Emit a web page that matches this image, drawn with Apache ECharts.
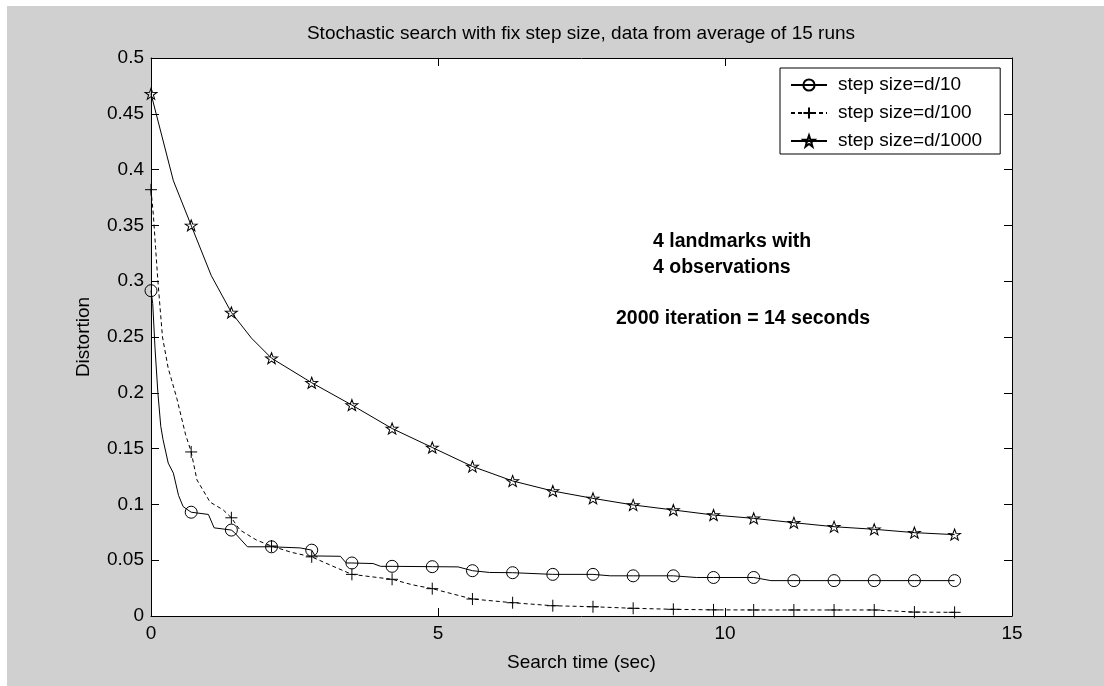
<!DOCTYPE html>
<html><head><meta charset="utf-8">
<script src="https://cdn.jsdelivr.net/npm/echarts@6/dist/echarts.min.js"></script>
<style>html,body{margin:0;padding:0;background:#fff;}#chart{position:absolute;left:7px;top:6px;width:1097px;height:680px;}</style>
</head><body><div id="chart"></div>
<script>
const titleText = 'Stochastic search with fix step size, data from average of 15 runs';
const xAxisName = 'Search time (sec)';
const yAxisName = 'Distortion';
const seriesNames = ['step size=d/10', 'step size=d/100', 'step size=d/1000'];
const noteLines = ['4 landmarks with', '4 observations', '2000 iteration = 14 seconds'];
const xRange = [0, 15, 5];
const yRange = [0, 0.5, 0.05];

const markerTimes = [0, 0.7, 1.4, 2.1, 2.8, 3.5, 4.2, 4.9, 5.6, 6.3, 7.0, 7.7, 8.4, 9.1, 9.8, 10.5, 11.2, 11.9, 12.6, 13.3, 14.0];

const d10Time = [0, 0.03, 0.07, 0.12, 0.17, 0.21, 0.3, 0.39, 0.48, 0.56, 0.7, 1.0, 1.1, 1.4, 1.45, 1.68, 2.1, 2.6, 2.8, 2.86, 3.3, 3.4, 3.5, 3.87, 4.0, 4.2, 4.9, 5.35, 5.6, 5.9, 6.3, 7.0, 7.7, 8.0, 8.4, 9.1, 9.5, 9.8, 10.5, 10.8, 11.2, 11.9, 12.6, 13.3, 14.0];
const d10Value = [0.2915, 0.28, 0.24, 0.20, 0.17, 0.158, 0.137, 0.128, 0.108, 0.098, 0.093, 0.091, 0.079, 0.077, 0.075, 0.062, 0.062, 0.061, 0.059, 0.0538, 0.0535, 0.0475, 0.0475, 0.047, 0.0445, 0.0445, 0.0442, 0.044, 0.0406, 0.039, 0.0388, 0.0373, 0.0373, 0.036, 0.036, 0.036, 0.0345, 0.0345, 0.0345, 0.0317, 0.0317, 0.0317, 0.0317, 0.0317, 0.0317];

const d100Time = [0, 0.04, 0.08, 0.12, 0.2, 0.3, 0.45, 0.6, 0.7, 0.8, 1.03, 1.26, 1.4, 1.55, 1.84, 2.1, 2.45, 2.8, 3.15, 3.5, 4.2, 4.55, 4.9, 5.6, 6.3, 7.0, 7.7, 8.4, 9.1, 9.8, 10.5, 11.2, 11.9, 12.6, 13.3, 14.0];
const d100Value = [0.382, 0.36, 0.33, 0.30, 0.25, 0.222, 0.195, 0.163, 0.147, 0.122, 0.102, 0.095, 0.088, 0.077, 0.068, 0.0627, 0.057, 0.053, 0.045, 0.0373, 0.0329, 0.028, 0.0245, 0.0152, 0.0119, 0.0092, 0.0083, 0.0069, 0.006, 0.0055, 0.0054, 0.0054, 0.0054, 0.0054, 0.0035, 0.0033];

const d1000Time = [0, 0.39, 0.7, 1.05, 1.4, 1.75, 2.1, 2.8, 3.5, 4.2, 4.9, 5.6, 6.3, 7.0, 7.7, 8.4, 9.1, 9.8, 10.5, 11.2, 11.9, 12.6, 13.3, 14.0];
const d1000Value = [0.468, 0.39, 0.350, 0.305, 0.272, 0.249, 0.231, 0.209, 0.189, 0.168, 0.151, 0.134, 0.121, 0.112, 0.1054, 0.0995, 0.095, 0.0905, 0.0875, 0.0836, 0.080, 0.0777, 0.0747, 0.0729];

const FONT = '"Liberation Sans", Arial, sans-serif';
const STAR = 'path://M10,0 L12.35,6.76 L19.51,6.91 L13.80,11.24 L15.88,18.09 L10,14 L4.12,18.09 L6.20,11.24 L0.49,6.91 L7.65,6.76 Z';
const PLUS = 'path://M5,0 L5,10 M0,5 L10,5';

function build(times, values) {
  return times.map((t, i) => {
    const isMark = markerTimes.some(m => Math.abs(m - t) < 1e-6);
    return isMark ? { value: [t, values[i]] } : { value: [t, values[i]], symbol: 'none' };
  });
}

function lineSeries(name, times, values, symbol, symbolSize, dashed) {
  return {
    name, type: 'line', xAxisIndex: 0, yAxisIndex: 0,
    data: build(times, values),
    symbol, symbolSize, showAllSymbol: true,
    lineStyle: { color: '#000', width: 1, type: dashed ? [4, 3] : 'solid' },
    itemStyle: { color: 'rgba(0,0,0,0)', borderColor: '#000', borderWidth: 1 },
    emphasis: { disabled: true },
    silent: true, animation: false
  };
}

function axisCommon(extra) {
  return Object.assign({
    type: 'value',
    axisLine: { show: true, onZero: false, lineStyle: { color: '#000', width: 1 } },
    axisTick: { show: true, inside: true, length: 8, lineStyle: { color: '#000', width: 1 } },
    splitLine: { show: false },
    axisLabel: { show: false }
  }, extra);
}

const chart = echarts.init(document.getElementById('chart'), null, { renderer: 'canvas' });
const labelStyle = { show: true, color: '#000', fontSize: 19, fontFamily: FONT };
chart.setOption({
  backgroundColor: '#d0d0d0',
  animation: false,
  title: {
    text: titleText, left: 574, top: 18, padding: 0, textAlign: 'center',
    textStyle: { fontSize: 19, fontWeight: 'normal', fontFamily: FONT, color: '#000' }
  },
  grid: { left: 144, top: 52, right: 92, bottom: 70, show: true, backgroundColor: '#fff', borderWidth: 0, containLabel: false },
  legend: {
    orient: 'vertical', left: 773, top: 62, padding: [7, 18, 3, 10],
    itemWidth: 36, itemHeight: 14, itemGap: 8,
    backgroundColor: '#fff', borderColor: '#000', borderWidth: 1, borderRadius: 0,
    selectedMode: false,
    textStyle: { fontFamily: FONT, fontSize: 19, color: '#000', lineHeight: 20, padding: [0, 0, 0, 6] },
    data: seriesNames
  },
  xAxis: [
    axisCommon({ position: 'bottom', min: xRange[0], max: xRange[1], interval: xRange[2],
      axisLabel: Object.assign({ margin: 8 }, labelStyle),
      name: xAxisName, nameLocation: 'middle', nameGap: 37,
      nameTextStyle: { color: '#000', fontSize: 19, fontFamily: FONT } }),
    axisCommon({ position: 'top', min: xRange[0], max: xRange[1], interval: xRange[2] })
  ],
  yAxis: [
    axisCommon({ position: 'left', min: yRange[0], max: yRange[1], interval: yRange[2],
      axisLabel: Object.assign({ margin: 7 }, labelStyle),
      name: yAxisName, nameLocation: 'middle', nameGap: 58,
      nameTextStyle: { color: '#000', fontSize: 19, fontFamily: FONT } }),
    axisCommon({ position: 'right', min: yRange[0], max: yRange[1], interval: yRange[2] })
  ],
  graphic: [
    { type: 'text', left: 646, top: 226, style: { text: noteLines[0], font: 'bold 19.5px ' + FONT, fill: '#000' } },
    { type: 'text', left: 646, top: 252, style: { text: noteLines[1], font: 'bold 19.5px ' + FONT, fill: '#000' } },
    { type: 'text', left: 609, top: 303, style: { text: noteLines[2], font: 'bold 19.5px ' + FONT, fill: '#000' } }
  ],
  series: [
    lineSeries(seriesNames[0], d10Time, d10Value, 'circle', 12, false),
    lineSeries(seriesNames[1], d100Time, d100Value, PLUS, 12, true),
    lineSeries(seriesNames[2], d1000Time, d1000Value, STAR, [12, 11], false)
  ]
});
</script></body></html>
